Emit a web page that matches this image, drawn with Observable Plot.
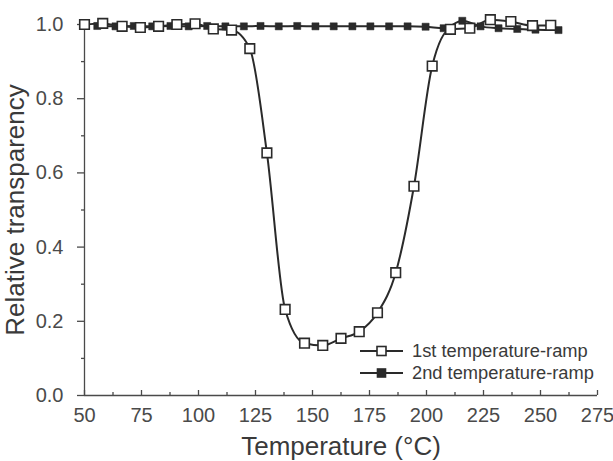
<!DOCTYPE html>
<html>
<head>
<meta charset="utf-8">
<script src="https://cdn.jsdelivr.net/npm/d3@7"></script>
<script src="https://cdn.jsdelivr.net/npm/@observablehq/plot@0.6"></script>
<style>
  body { margin: 0; background: #fff; font-family: "Liberation Sans", Arial, sans-serif; }
  #wrap { position: relative; width: 613px; height: 461px; }
  #legend { position: absolute; left: 358px; top: 340px; font-size: 18.3px; color: #3a3a3a; line-height: 22px; }
  #legend .row { display: flex; align-items: center; height: 22px; }
  #legend svg { margin-right: 8px; }
</style>
</head>
<body>
<div id="wrap"></div>
<script>
// 1st temperature-ramp (open squares)
const temp1 = [50, 58, 66.5, 74.5, 82.5, 90.5, 98.5, 106.5, 114.5, 122.5, 130, 138, 146.5, 154.5, 162.5, 170.5, 178.5, 186.5, 194.5, 202.5, 210.5, 219, 228, 237, 246.5, 254.5];
const ramp1 = [1.000, 1.003, 0.995, 0.992, 0.995, 1.000, 1.002, 0.988, 0.985, 0.935, 0.654, 0.232, 0.141, 0.135, 0.154, 0.172, 0.223, 0.331, 0.564, 0.888, 0.987, 0.990, 1.013, 1.008, 0.997, 0.998];
// 2nd temperature-ramp (filled squares)
const temp2 = [55.6, 63.6, 71.6, 79.7, 87.7, 95.7, 103.8, 111.8, 119.9, 127.2, 135.2, 143.3, 151.3, 159.3, 167.5, 175.4, 183.6, 191.7, 199.6, 207.5, 215.7, 223.7, 231.6, 239.8, 247.8, 257.9];
const ramp2 = [0.996, 0.995, 0.996, 0.995, 0.996, 0.995, 0.996, 0.995, 0.995, 0.996, 0.995, 0.996, 0.995, 0.995, 0.995, 0.995, 0.995, 0.995, 0.994, 0.990, 1.010, 0.995, 0.990, 0.988, 0.986, 0.985];

const xMajor = [50, 75, 100, 125, 150, 175, 200, 225, 250, 275];
const xMinor = [62.5, 87.5, 112.5, 137.5, 162.5, 187.5, 212.5, 237.5, 262.5];
const yMajor = [0, 0.2, 0.4, 0.6, 0.8, 1.0];
const yMinor = [0.1, 0.3, 0.5, 0.7, 0.9];
const xTitle = "Temperature (°C)";
const yTitle = "Relative transparency";
const seriesNames = ["1st temperature-ramp", "2nd temperature-ramp"];

const d1 = temp1.map((t, i) => ({t, v: ramp1[i]}));
const d2 = temp2.map((t, i) => ({t, v: ramp2[i]}));

const ink = "#2a2a2a";
const axisInk = "#4a4a4a";
const textInk = "#4a4a4a";

const plot = Plot.plot({
  width: 613,
  height: 461,
  marginLeft: 84,
  marginRight: 16,
  marginTop: 24,
  marginBottom: 66,
  style: {fontFamily: "'Liberation Sans', Arial, sans-serif", background: "#fff", overflow: "visible"},
  x: {domain: [50, 275], label: null},
  y: {domain: [0, 1], label: null},
  marks: [
    // axis lines
    Plot.ruleY([0], {stroke: axisInk, strokeWidth: 1.3}),
    Plot.ruleX([50], {stroke: axisInk, strokeWidth: 1.3}),
    // x ticks (inward, short)
    Plot.ruleX(xMajor, {x: d => d, y1: 0, y2: 0, insetBottom: 5, stroke: axisInk, strokeWidth: 1.3}),
    Plot.ruleX(xMinor, {x: d => d, y1: 0, y2: 0, insetBottom: 3, stroke: axisInk, strokeWidth: 1.3}),
    Plot.axisX({ticks: xMajor, tickSize: 0, tickPadding: 12, tickFormat: d => String(d), fontSize: 20, fill: textInk, label: null}),
    // y ticks (outward)
    Plot.axisY({ticks: yMajor, tickSize: 7, tickPadding: 14, tickFormat: d3.format(".1f"), fontSize: 20, fill: textInk, stroke: axisInk, strokeWidth: 1.3, label: null}),
    Plot.ruleY(yMinor, {y: d => d, x1: 50, x2: 50, insetRight: 3, stroke: axisInk, strokeWidth: 1.3}),
    // titles
    Plot.text([xTitle], {frameAnchor: "bottom", lineAnchor: "middle", dy: 51, fontSize: 26, fill: "#3a3a3a"}),
    Plot.text([yTitle], {frameAnchor: "left", textAnchor: "middle", lineAnchor: "middle", dx: -69, rotate: -90, fontSize: 26, fill: "#3a3a3a"}),
    // series 2
    Plot.line(d2, {x: "t", y: "v", curve: "monotone-x", stroke: ink, strokeWidth: 2}),
    Plot.dot(d2, {x: "t", y: "v", symbol: "square", r: 4, fill: ink, stroke: ink, strokeWidth: 0.5}),
    // series 1
    Plot.line(d1, {x: "t", y: "v", curve: "monotone-x", stroke: ink, strokeWidth: 2}),
    Plot.dot(d1, {x: "t", y: "v", symbol: "square", r: 5.4, fill: "#fff", stroke: ink, strokeWidth: 1.6})
  ]
});

const wrap = document.getElementById("wrap");
wrap.appendChild(plot);

// legend
const legend = document.createElement("div");
legend.id = "legend";
seriesNames.forEach((name, i) => {
  const row = document.createElement("div");
  row.className = "row";
  const filled = i === 1;
  const s = filled ? 8 : 9;
  row.innerHTML = `<svg width="46" height="14"><line x1="2" y1="7" x2="45" y2="7" stroke="${ink}" stroke-width="2"/>` +
    `<rect x="${23.5 - s / 2}" y="${7 - s / 2}" width="${s}" height="${s}" fill="${filled ? ink : "#fff"}" stroke="${ink}" stroke-width="1.6"/></svg>` +
    `<span>${name}</span>`;
  legend.appendChild(row);
});
wrap.appendChild(legend);
</script>
</body>
</html>
